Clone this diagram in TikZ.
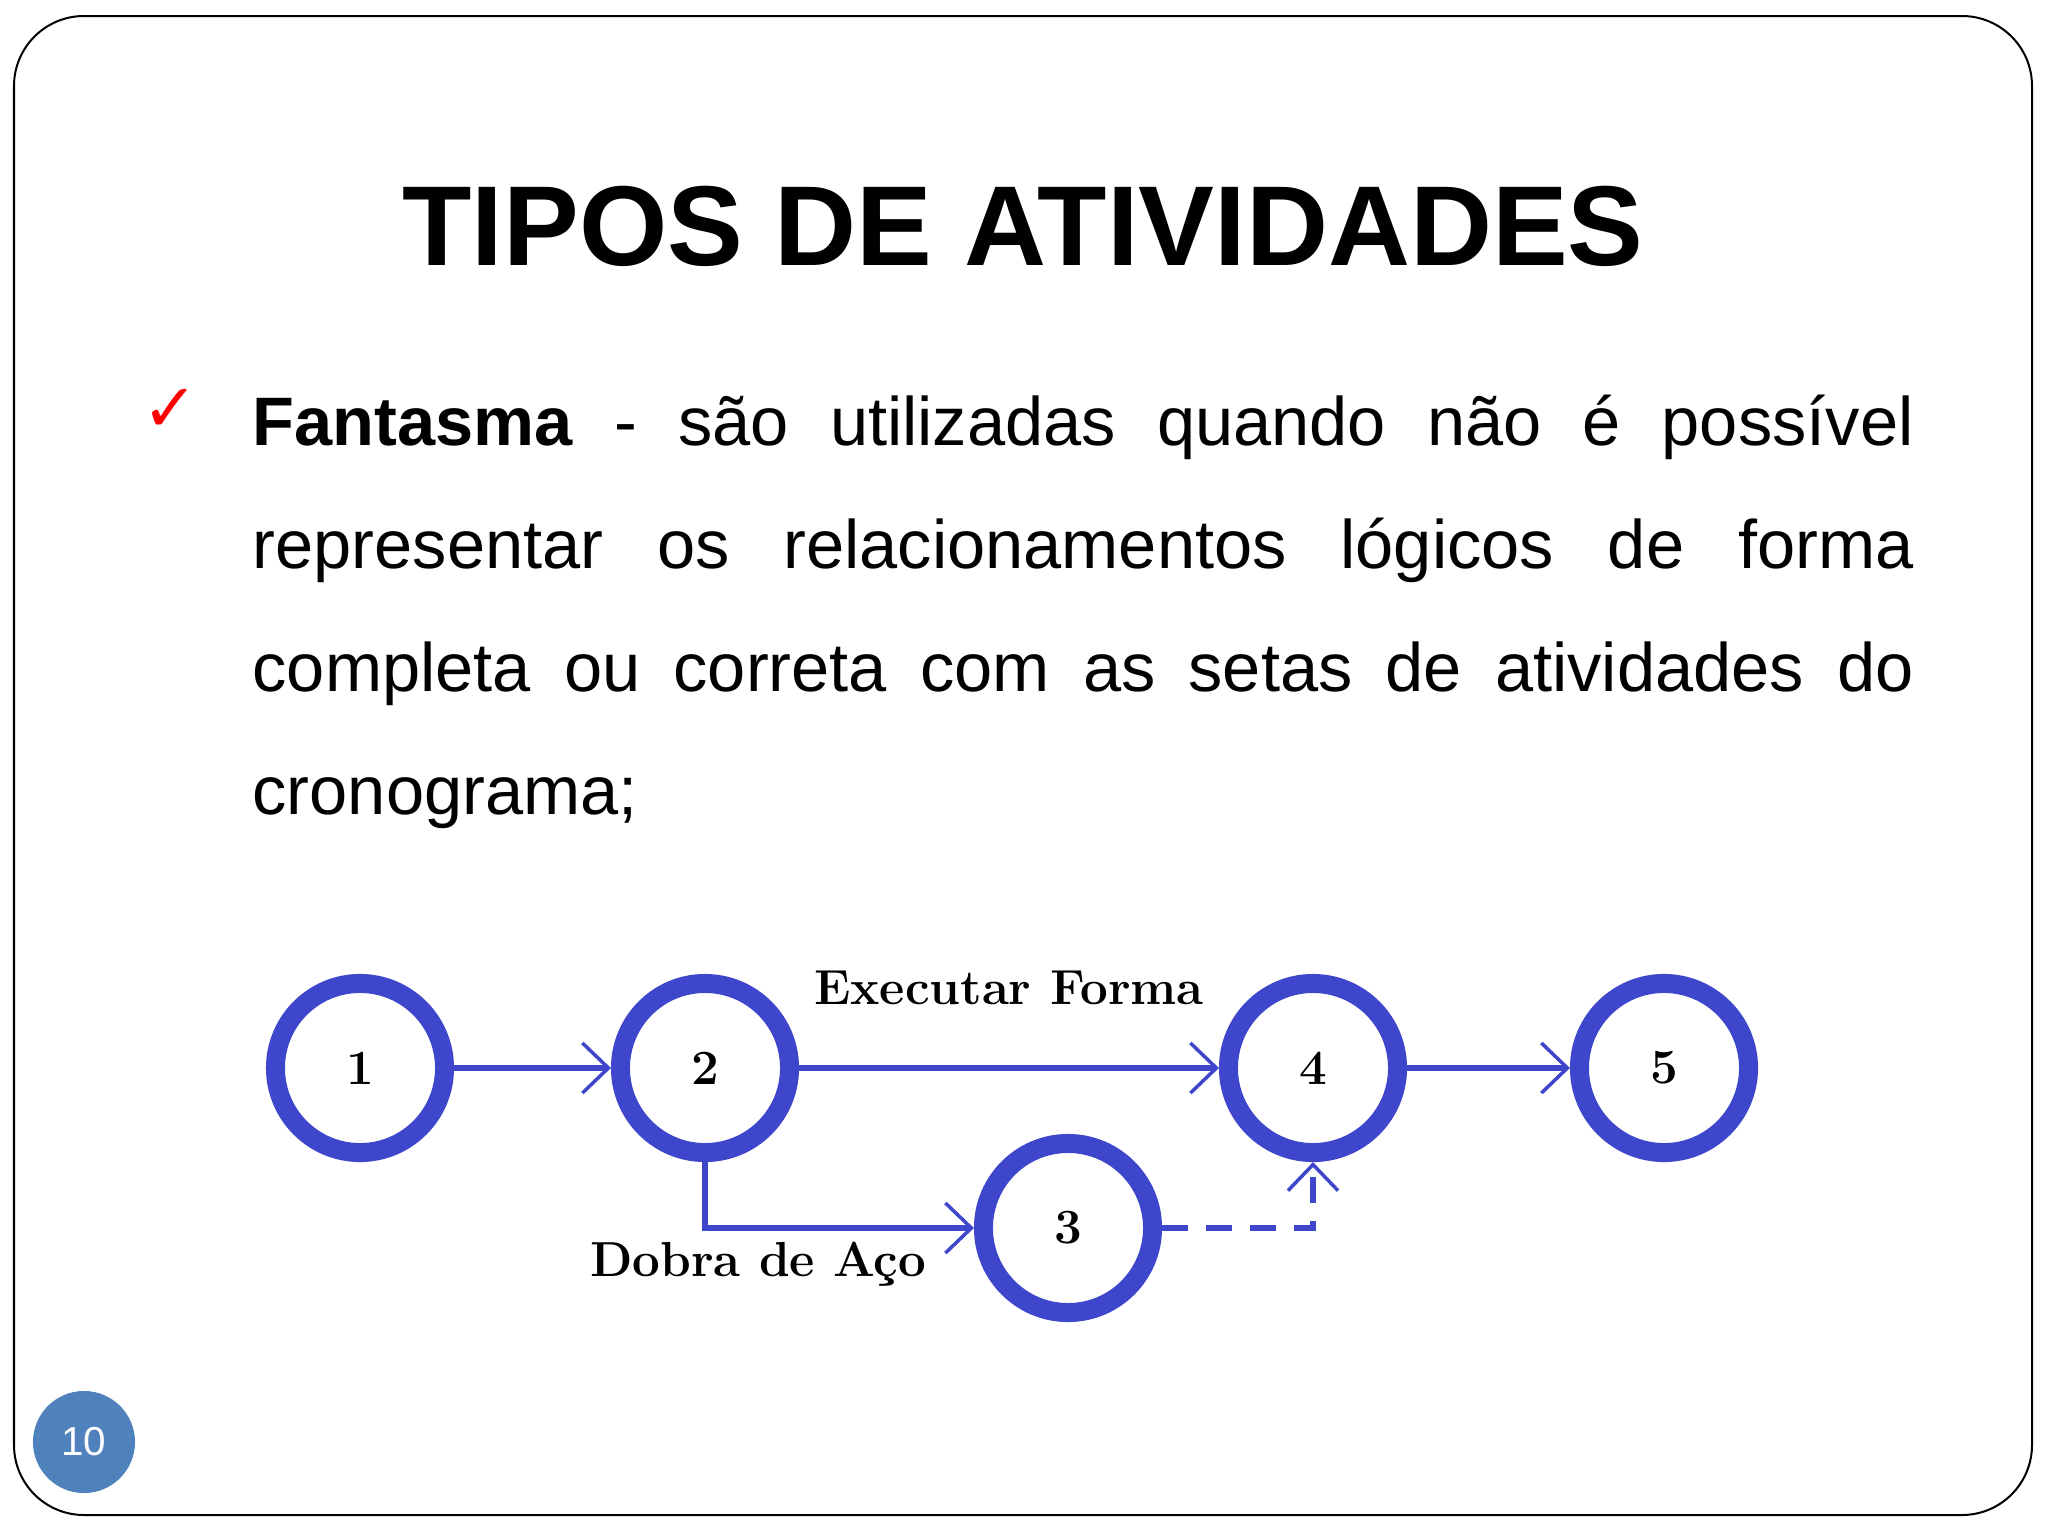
\documentclass[tikz,border=0pt]{standalone}
\usepackage{fontspec}
\setsansfont{Liberation Sans}
\newfontfamily\symfont{DejaVu Sans}
\usetikzlibrary{arrows.meta,positioning}
\definecolor{netblue}{RGB}{62,70,204}
\definecolor{slideblue}{RGB}{79,129,189}
\begin{document}
\begin{tikzpicture}[x=0.01cm,y=-0.01cm,
	evt/.style={circle,draw=netblue,line width=0.19cm,minimum size=1.69cm,inner sep=0pt,font=\fontsize{14}{14}\selectfont\bfseries},
	act/.style={draw=netblue,line width=0.055cm,-{Straight Barb[length=0.26cm,width=0.5cm,line width=0.035cm]}},
	lbl/.style={inner sep=0pt,font=\fontsize{14}{14}\selectfont\bfseries}]
	\fill[white] (0,0) rectangle (2048,1536);
	\draw[line width=0.02cm,rounded corners=0.7cm] (14,16) rectangle (2032,1515);
	\node[anchor=base,font=\fontsize{32.3}{33}\selectfont\sffamily\bfseries] (title) at (1023,265) {TIPOS DE ATIVIDADES};
	\node[text=red,font=\fontsize{19}{19}\selectfont\symfont] (tick) at (170,410) {✓};
	\node[anchor=base west,inner sep=0pt,text width=16.6cm,align=justify,font=\fontsize{19.5}{35}\selectfont\sffamily] (body) at (252,445)
	{\textbf{Fantasma} - são utilizadas quando não é possível\linebreak representar os relacionamentos lógicos de forma\linebreak completa ou correta com as setas de atividades do\linebreak cronograma;};
	\node[evt] (e1) at (360,1068) {\oldstylenums{1}};
	\node[evt] (e2) at (705,1068) {\oldstylenums{2}};
	\node[evt] (e3) at (1068,1228) {\oldstylenums{3}};
	\node[evt] (e4) at (1313,1068) {\oldstylenums{4}};
	\node[evt] (e5) at (1664,1068) {\oldstylenums{5}};
	\draw[act] (e1) -- (e2);
	\draw[act] (e2) -- node[lbl,above=0.6cm] (lexec) {Executar Forma} (e4);
	\draw[act] (e4) -- (e5);
	\draw[act] (e2) |- (e3);
	\draw[act,dash pattern=on 0.26cm off 0.18cm] (e3) -| (e4);
	\node[lbl,anchor=north east] (ldobra) at ([xshift=-0.47cm,yshift=-0.13cm]e3.west) {Dobra de Aço};
	\node[circle,fill=slideblue,minimum size=1.02cm,inner sep=0pt,text=white,font=\fontsize{11.5}{11.5}\selectfont\sffamily] (pgnum) at (84,1442) {10};
\end{tikzpicture}
\end{document}
